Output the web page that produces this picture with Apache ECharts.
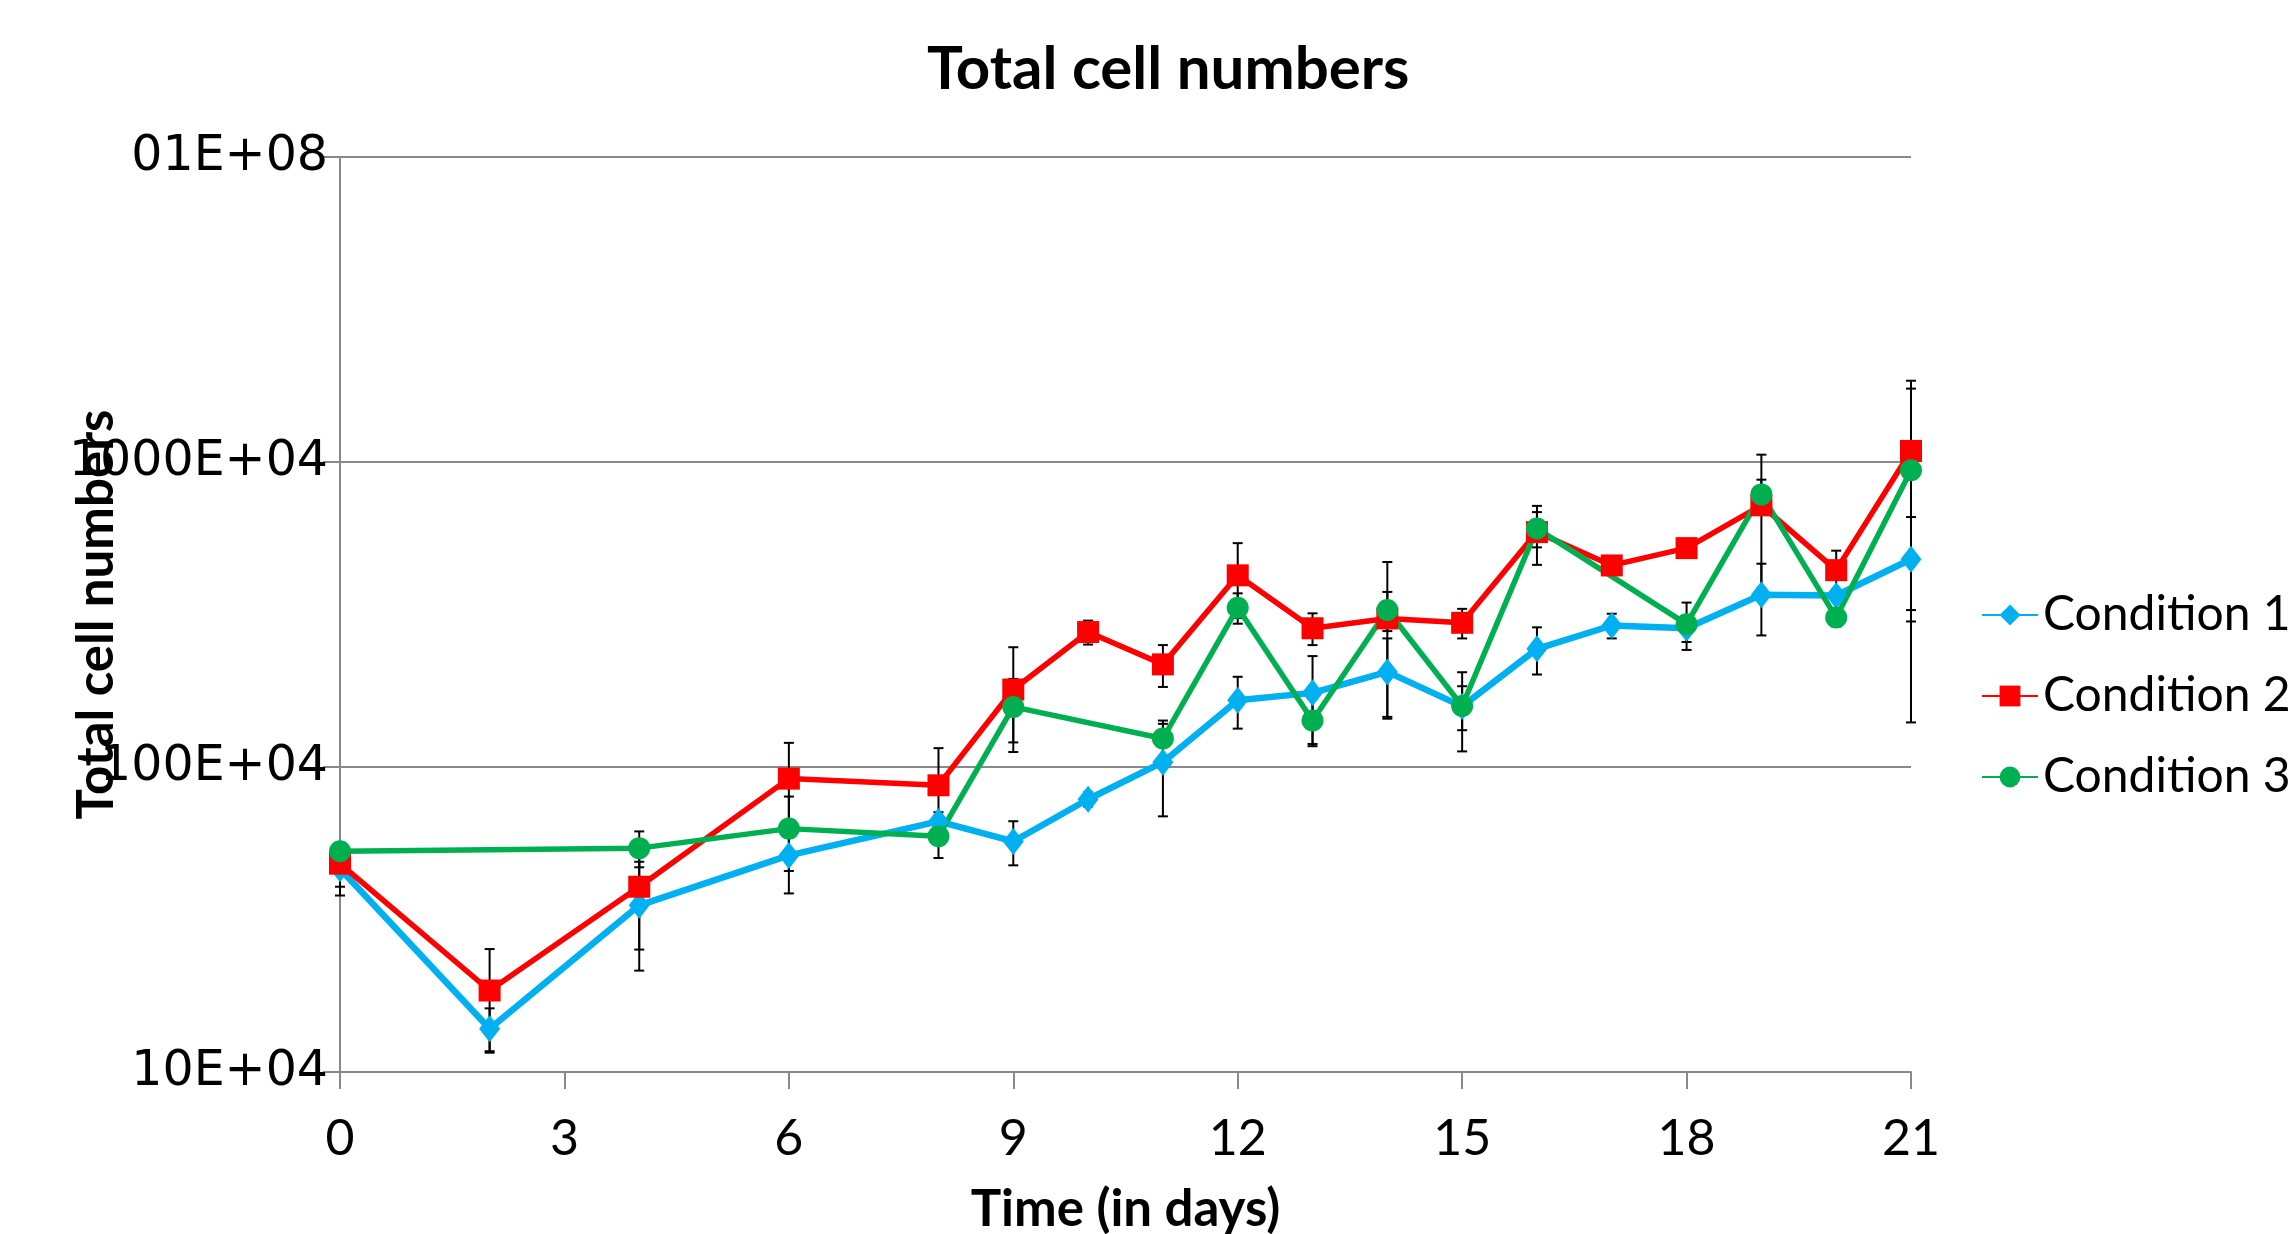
<!DOCTYPE html>
<html>
<head>
<meta charset="utf-8">
<script src="https://cdn.jsdelivr.net/npm/echarts@6/dist/echarts.min.js"></script>
<style>
html,body{margin:0;padding:0;background:#fff;}
#chart{width:2296px;height:1234px;}
</style>
</head>
<body>
<div id="chart"></div>
<script>
// ---- data ----
const seriesNames = ['Condition 1', 'Condition 2', 'Condition 3'];
const days1 = [0, 2, 4, 6, 8, 9, 10, 11, 12, 13, 14, 15, 16, 17, 18, 19, 20, 21];
const cond1 = [4.64e5, 1.387e5, 3.52e5, 5.13e5, 6.63e5, 5.70e5, 7.84e5, 1.037e6, 1.656e6, 1.75e6, 2.05e6, 1.58e6, 2.44e6, 2.91e6, 2.85e6, 3.67e6, 3.65e6, 4.80e6];
const sd1 = [0.85e5, 0.23e5, 1.37e5, 1.28e5, 0.48e5, 0.94e5, 0.42e5, 3.48e5, 3.2e5, 5.6e5, 5.9e5, 2.6e5, 4.3e5, 2.7e5, 2.8e5, 9.7e5, 1.0e5, 1.8e6];
const days2 = [0, 2, 4, 6, 8, 9, 10, 11, 12, 13, 14, 15, 16, 17, 18, 19, 20, 21];
const cond2 = [4.82e5, 1.85e5, 4.05e5, 9.16e5, 8.71e5, 1.795e6, 2.77e6, 2.17e6, 4.25e6, 2.85e6, 3.07e6, 2.97e6, 5.89e6, 4.58e6, 5.22e6, 7.21e6, 4.42e6, 1.087e7];
const sd2 = [0.77e5, 0.68e5, 1.53e5, 2.84e5, 2.82e5, 6.75e5, 2.5e5, 3.4e5, 1.17e6, 3.4e5, 1.63e6, 3.3e5, 1.29e6, 1.5e5, 2.0e5, 3.36e6, 7.0e5, 7.6e6];
const days3 = [0, 4, 6, 8, 9, 11, 12, 13, 14, 15, 16, 18, 19, 20, 21];
const cond3 = [5.29e5, 5.42e5, 6.28e5, 5.93e5, 1.574e6, 1.24e6, 3.33e6, 1.42e6, 3.27e6, 1.585e6, 6.05e6, 2.94e6, 7.83e6, 3.09e6, 9.4e6];
const sd3 = [0.2e5, 0.73e5, 1.72e5, 0.9e5, 3.7e5, 1.8e5, 3.8e5, 2.5e5, 4.8e5, 4.6e5, 8.0e5, 5.2e5, 9.2e5, 2.0e5, 8.0e6];
const yTickValues = [1e5, 1e6, 1e7, 1e8];
const yTickLabels = ['10E+04', '100E+04', '1000E+04', '01E+08'];
const xTicks = [0, 3, 6, 9, 12, 15, 18, 21];

const colors = ['#00B0F0', '#FF0000', '#00B050'];
const symbols = ['diamond', 'rect', 'circle'];
const symbolSizes = [[21, 27], 22, 22];
const lineWidths = [6.5, 5.5, 5.5];

function zip(d, v) { return d.map((x, i) => [x, v[i]]); }
function zip3(d, v, e) { return d.map((x, i) => [x, v[i], e[i]]); }

const allDays = [days1, days2, days3];
const allVals = [cond1, cond2, cond3];
const allSd = [sd1, sd2, sd3];

function errRender(params, api) {
  const x = api.value(0), v = api.value(1), e = api.value(2);
  const lo = Math.max(v - e, 1e5);
  const top = api.coord([x, v + e]);
  const bot = api.coord([x, lo]);
  const hw = 5;
  const st = { stroke: '#000', lineWidth: 2 };
  return {
    type: 'group',
    children: [
      { type: 'line', shape: { x1: top[0], y1: top[1], x2: bot[0], y2: bot[1] }, style: st },
      { type: 'line', shape: { x1: top[0] - hw, y1: top[1], x2: top[0] + hw, y2: top[1] }, style: st },
      { type: 'line', shape: { x1: bot[0] - hw, y1: bot[1], x2: bot[0] + hw, y2: bot[1] }, style: st }
    ]
  };
}

const series = [];
for (let i = 0; i < 3; i++) {
  series.push({
    type: 'custom',
    name: seriesNames[i] + ' err',
    renderItem: errRender,
    data: zip3(allDays[i], allVals[i], allSd[i]),
    encode: { x: 0, y: 1 },
    z: 1,
    silent: true
  });
}
for (let i = 0; i < 3; i++) {
  series.push({
    type: 'line',
    name: seriesNames[i],
    data: zip(allDays[i], allVals[i]),
    symbol: symbols[i],
    symbolSize: symbolSizes[i],
    showAllSymbol: true,
    lineStyle: { color: colors[i], width: lineWidths[i] },
    itemStyle: { color: colors[i] },
    z: 3,
    animation: false
  });
}

const chart = echarts.init(document.getElementById('chart'), null, { renderer: 'canvas' });
chart.setOption({
  animation: false,
  backgroundColor: '#fff',
  title: {
    text: 'Total cell numbers',
    left: 922,
    top: 35,
    textStyle: { fontFamily: 'Lato', fontWeight: 'bold', fontSize: 60, color: '#000' }
  },
  legend: {
    data: seriesNames,
    orient: 'vertical',
    left: 1976,
    top: 586,
    itemWidth: 56,
    itemHeight: 26,
    itemGap: 33,
    textStyle: { fontFamily: 'Lato', fontSize: 48, color: '#000' }
  },
  grid: { left: 340, right: 385, top: 157, bottom: 162, containLabel: false, outerBoundsMode: 'none' },
  xAxis: {
    type: 'value',
    min: 0, max: 21, interval: 3,
    name: 'Time (in days)',
    nameLocation: 'middle',
    nameGap: 112,
    nameMoveOverlap: false,
    nameTextStyle: { fontFamily: 'Lato', fontWeight: 'bold', fontSize: 51, color: '#000' },
    axisLine: { show: true, lineStyle: { color: '#898989', width: 2 } },
    axisTick: { show: true, length: 17, lineStyle: { color: '#898989', width: 2 } },
    axisLabel: {
      fontFamily: 'Lato', fontSize: 50, color: '#000', margin: 42,
      formatter: v => (xTicks.indexOf(v) >= 0 ? String(v) : '')
    },
    splitLine: { show: false }
  },
  yAxis: {
    type: 'log',
    logBase: 10,
    min: 1e5, max: 1e8,
    name: 'Total cell numbers',
    nameLocation: 'middle',
    nameRotate: 90,
    nameGap: 218,
    nameMoveOverlap: false,
    nameTextStyle: { fontFamily: 'Lato', fontWeight: 'bold', fontSize: 51, color: '#000' },
    axisLine: { show: true, lineStyle: { color: '#898989', width: 2 } },
    axisTick: { show: true, length: 17, lineStyle: { color: '#898989', width: 2 } },
    axisLabel: {
      fontFamily: 'DejaVu Sans', fontSize: 49, color: '#000', margin: 12,
      formatter: function (v) {
        const k = Math.round(Math.log10(v));
        const idx = yTickValues.findIndex(t => Math.round(Math.log10(t)) === k);
        return idx >= 0 ? yTickLabels[idx] : '';
      }
    },
    splitLine: { show: true, lineStyle: { color: '#898989', width: 2 } },
    minorTick: { show: false }
  },
  series: series
});
</script>
</body>
</html>
